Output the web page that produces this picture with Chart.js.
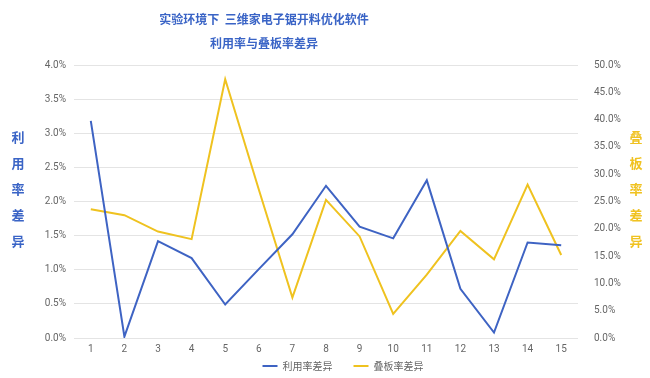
<!DOCTYPE html>
<html><head><meta charset="utf-8">
<script src="https://cdn.jsdelivr.net/npm/chart.js@4/dist/chart.umd.min.js"></script>
<style>
html,body{margin:0;padding:0;background:#fff;}
#wrap{position:relative;width:650px;height:378px;overflow:hidden;}
canvas{position:absolute;left:0;top:0;}
.t{position:absolute;font-family:"Noto Sans CJK SC",sans-serif;font-weight:bold;color:#3a64c6;white-space:pre;text-align:center;}
.v{position:absolute;font-family:"Noto Sans CJK SC",sans-serif;font-weight:bold;font-size:13px;line-height:26px;width:20px;text-align:center;}
</style></head>
<body><div id="wrap">
<canvas id="c" width="650" height="378"></canvas>
<div class="t" style="left:0;width:528px;top:10px;font-size:12px;line-height:18px;">实验环境下  三维家电子锯开料优化软件</div>
<div class="t" style="left:0;width:528px;top:34px;font-size:12px;line-height:18px;">利用率与叠板率差异</div>
<div class="v" style="left:8px;top:124px;color:#3a64c6;">利<br>用<br>率<br>差<br>异</div>
<div class="v" style="left:626px;top:124px;color:#f0c221;">叠<br>板<br>率<br>差<br>异</div>
</div>
<script>
const categories = ['1','2','3','4','5','6','7','8','9','10','11','12','13','14','15'];
const utilDiff = [3.18, 0.02, 1.42, 1.17, 0.49, 1.01, 1.52, 2.23, 1.63, 1.46, 2.31, 0.72, 0.08, 1.40, 1.36];
const stackDiff = [23.6, 22.5, 19.5, 18.1, 47.4, 27.2, 7.4, 25.3, 18.6, 4.4, 11.6, 19.6, 14.4, 28.1, 15.2];
const seriesNames = ['利用率差异', '叠板率差异'];
const leftTicks = [0, 4, 0.5];
const rightTicks = [0, 50, 5];

const tickFont = {family: 'Roboto, "Liberation Sans", sans-serif', size: 10};
new Chart(document.getElementById('c'), {
  type: 'line',
  data: {
    labels: categories,
    datasets: [
      {label: seriesNames[0], data: utilDiff, yAxisID: 'y', borderColor: '#3e63c3', backgroundColor: '#3e63c3', borderWidth: 2, pointRadius: 0, tension: 0},
      {label: seriesNames[1], data: stackDiff, yAxisID: 'y1', borderColor: '#efc21f', backgroundColor: '#efc21f', borderWidth: 2, pointRadius: 0, tension: 0}
    ]
  },
  options: {
    responsive: false, animation: false, devicePixelRatio: 1,
    layout: {padding: {top: 65, left: 36, right: 0, bottom: 0}},
    plugins: {
      title: {display: false},
      tooltip: {enabled: false},
      legend: {
        position: 'bottom',
        maxHeight: 23,
        labels: {
          usePointStyle: true, pointStyle: 'line', pointStyleWidth: 15, boxHeight: 2, color: '#666', padding: 6,
          font: {family: '"Noto Sans CJK SC", sans-serif', size: 10},
          generateLabels: chart => {
            const items = Chart.defaults.plugins.legend.labels.generateLabels(chart);
            items.forEach((it, i) => { if (i < items.length - 1) it.text = it.text + '\u3000\u2002'; });
            return items;
          }
        }
      }
    },
    scales: {
      x: {
        offset: true,
        grid: {display: false, drawTicks: false}, border: {display: false},
        ticks: {color: '#666', font: tickFont, padding: 5, maxRotation: 0},
        afterFit: s => { s.height = 17; }
      },
      y: {
        position: 'left', min: leftTicks[0], max: leftTicks[1],
        grid: {color: '#e4e4e4', lineWidth: 1, drawTicks: false}, border: {display: false},
        ticks: {stepSize: leftTicks[2], color: '#666', font: tickFont, padding: 8, callback: v => v.toFixed(1) + '%'},
        afterFit: s => { s.width = 38; }
      },
      y1: {
        position: 'right', min: rightTicks[0], max: rightTicks[1],
        grid: {display: false}, border: {display: false},
        ticks: {stepSize: rightTicks[2], color: '#666', font: tickFont, padding: 8, callback: v => v.toFixed(1) + '%'},
        afterFit: s => { s.width = 72; }
      }
    }
  }
});
</script>
</body></html>
